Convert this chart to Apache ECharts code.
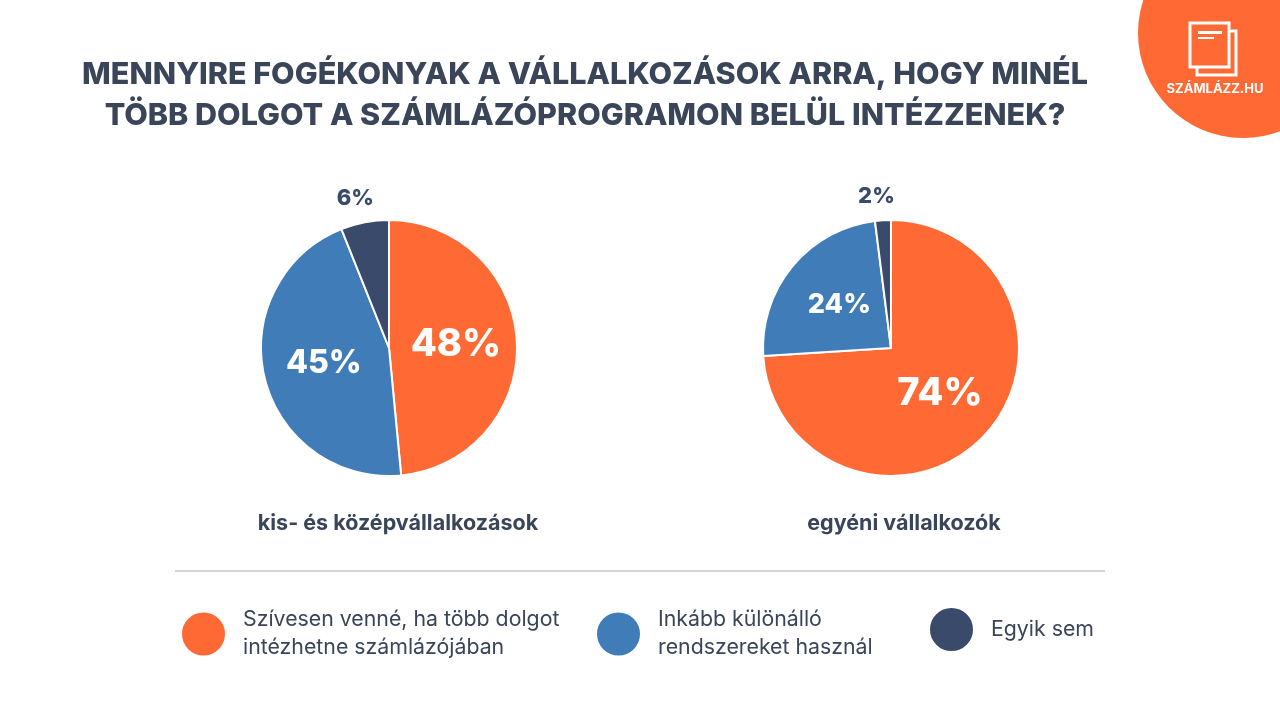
<!DOCTYPE html>
<html>
<head>
<meta charset="utf-8">
<script src="https://cdn.jsdelivr.net/npm/echarts@6/dist/echarts.min.js"></script>
<style>
  html, body { margin: 0; padding: 0; background: #fff; }
  #chart { width: 1280px; height: 721px; }
</style>
</head>
<body>
<div id="chart"></div>
<script>
// adatok
var categories = [
    'Szívesen venné, ha több dolgot\nintézhetne számlázójában',
    'Inkább különálló\nrendszereket használ',
    'Egyik sem'
];
var groups = ['kis- és középvállalkozások', 'egyéni vállalkozók'];
var kkvValues = [48, 45, 6];
var egyeniValues = [74, 24, 2];

var colors = ['#ff6933', '#407db8', '#3a4a6b'];
var textColor = '#3a4559';
var font = 'Inter, "Noto Sans", sans-serif';

function pieData(values, sizes) {
    return values.map(function (v, i) {
        var small = v < 10;
        return {
            name: categories[i],
            value: v,
            label: small ? {
                position: 'outside',
                color: colors[2],
                fontSize: 22
            } : {
                position: 'inside',
                color: '#fff',
                fontSize: sizes[i]
            }
        };
    });
}

function pieSeries(values, center, sizes) {
    return {
        type: 'pie',
        center: center,
        radius: 128,
        startAngle: 90,
        clockwise: true,
        silent: true,
        itemStyle: { borderColor: '#fff', borderWidth: 2 },
        label: {
            formatter: '{c}%',
            fontFamily: font,
            fontWeight: 800
        },
        labelLine: { show: false, length: 24, length2: 0 },
        labelLayout: function (p) {
            // kis szeletek címkéje középre igazítva
            if (p.labelRect && p.labelRect.width < 50) {
                return { dx: p.align === 'right' ? p.labelRect.width / 2 : -p.labelRect.width / 2 };
            }
        },
        data: pieData(values, sizes)
    };
}

var chart = echarts.init(document.getElementById('chart'));

var legendPos = [175, 590, 923];

option = {
    animation: false,
    color: colors,
    title: [
        {
            text: 'MENNYIRE FOGÉKONYAK A VÁLLALKOZÁSOK ARRA, HOGY MINÉL\nTÖBB DOLGOT A SZÁMLÁZÓPROGRAMON BELÜL INTÉZZENEK?',
            left: 580, top: 49, textAlign: 'center',
            textStyle: { fontFamily: font, fontWeight: 800, fontSize: 30.5, lineHeight: 41, color: textColor }
        },
        {
            text: groups[0], left: 393, top: 508, textAlign: 'center',
            textStyle: { fontFamily: font, fontWeight: 700, fontSize: 21.5, color: textColor }
        },
        {
            text: groups[1], left: 899, top: 508, textAlign: 'center',
            textStyle: { fontFamily: font, fontWeight: 700, fontSize: 21.5, color: textColor }
        }
    ],
    legend: categories.map(function (c, i) {
        return {
            data: [c],
            left: legendPos[i],
            top: 601,
            icon: 'circle',
            itemWidth: 45,
            itemHeight: 45,
            selectedMode: false,
            textStyle: {
                fontFamily: font, fontSize: 21.3, lineHeight: 28,
                color: textColor, padding: [0, 0, 0, 12]
            }
        };
    }),
    graphic: [
        {
            type: 'line',
            shape: { x1: 175, y1: 571, x2: 1105, y2: 571 },
            style: { stroke: '#a4a9b6', lineWidth: 1 }
        },
        {
            type: 'group',
            children: [
                { type: 'circle', shape: { cx: 1243, cy: 33, r: 105 }, style: { fill: '#ff6933' } },
                { type: 'rect', shape: { x: 1197, y: 31, width: 39, height: 44 }, style: { fill: 'none', stroke: '#fff', lineWidth: 3 } },
                { type: 'rect', shape: { x: 1190, y: 23, width: 39, height: 44 }, style: { fill: '#ff6933', stroke: '#fff', lineWidth: 3 } },
                { type: 'rect', shape: { x: 1198, y: 31, width: 24, height: 3 }, style: { fill: '#fff' } },
                { type: 'rect', shape: { x: 1198, y: 37, width: 16, height: 2 }, style: { fill: '#fff' } },
                {
                    type: 'text', x: 1215, y: 89,
                    style: {
                        text: 'SZÁMLÁZZ.HU', fill: '#fff', align: 'center', verticalAlign: 'middle',
                        font: 'bold 13px ' + font
                    }
                }
            ]
        }
    ],
    series: [
        pieSeries(kkvValues, [389, 348], [38, 32, 22]),
        pieSeries(egyeniValues, [891, 348], [38, 27, 22])
    ]
};

chart.setOption(option, true);
</script>
</body>
</html>
